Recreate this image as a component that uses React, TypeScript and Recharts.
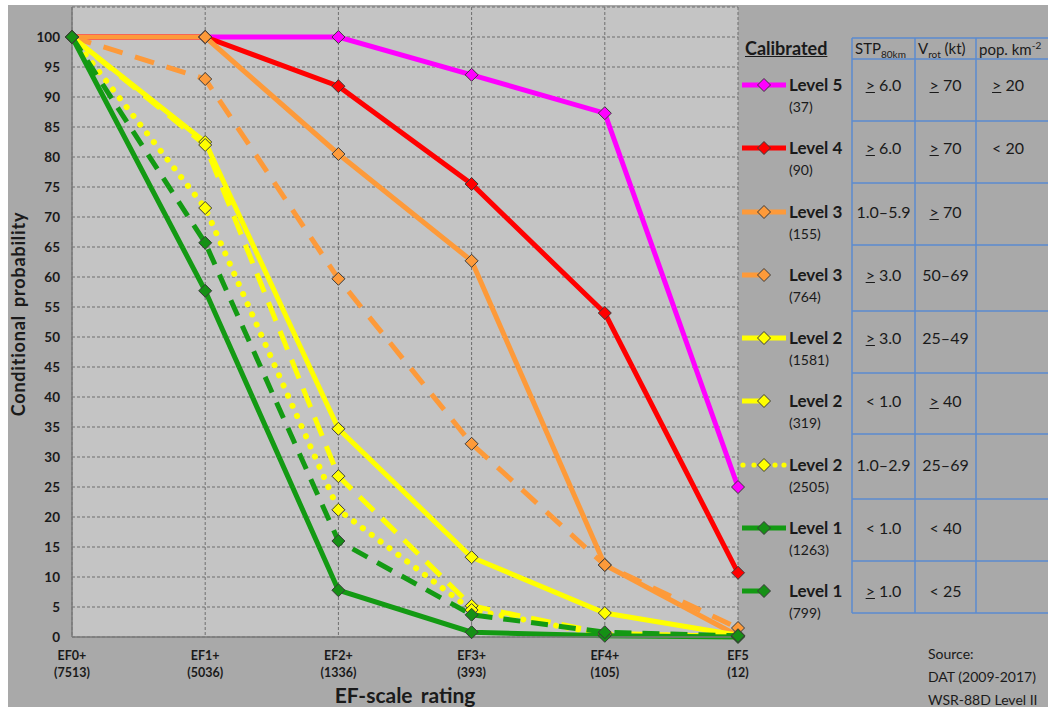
import React from "react";
import { CartesianGrid, Line, LineChart, XAxis, YAxis } from "recharts";

const categories = ["EF0+", "EF1+", "EF2+", "EF3+", "EF4+", "EF5"];
const counts = ["(7513)", "(5036)", "(1336)", "(393)", "(105)", "(12)"];
const yTicks = [0, 5, 10, 15, 20, 25, 30, 35, 40, 45, 50, 55, 60, 65, 70, 75, 80, 85, 90, 95, 100, 105];

const level5 = [100, 100, 100, 93.7, 87.3, 25];
const level4 = [100, 100, 91.8, 75.5, 54, 10.7];
const level3a = [100, 100, 80.5, 62.7, 12, 0.2];
const level3b = [100, 93, 59.7, 32.2, 12, 1.5];
const level2a = [100, 82.5, 34.7, 13.3, 4, 0.3];
const level2b = [100, 82, 26.8, 5.2, 0.6, 0.1];
const level2c = [100, 71.5, 21.2, 4.5, 0.4, 0.1];
const level1a = [100, 57.7, 7.8, 0.8, 0.2, 0];
const level1b = [100, 65.7, 16, 3.7, 0.8, 0.2];

const seriesLabels = ["Level 5", "Level 4", "Level 3", "Level 3", "Level 2", "Level 2", "Level 2", "Level 1", "Level 1"];
const seriesCounts = ["(37)", "(90)", "(155)", "(764)", "(1581)", "(319)", "(2505)", "(1263)", "(799)"];
const stpValues = ["≥ 6.0", "≥ 6.0", "1.0–5.9", "≥ 3.0", "≥ 3.0", "< 1.0", "1.0–2.9", "< 1.0", "≥ 1.0"];
const vrotValues = ["≥ 70", "≥ 70", "≥ 70", "50–69", "25–49", "≥ 40", "25–69", "< 40", "< 25"];
const popValues = ["≥ 20", "< 20", "", "", "", "", "", "", ""];

const FONT = "Lato, 'Open Sans', sans-serif";
const TEXT = "#1a1a1a";

type Style = { key: string; color: string; fill: string; dash?: string; cap?: "round" | "butt"; width: number; kind: "solid" | "dash" | "dot" };

const styles: Style[] = [
  { key: "l5", color: "#ff00ff", fill: "#ff00ff", width: 5, kind: "solid" },
  { key: "l4", color: "#ff0000", fill: "#ff0000", width: 5, kind: "solid" },
  { key: "l3a", color: "#fd9a3a", fill: "#fd9a3a", width: 5, kind: "solid" },
  { key: "l3b", color: "#fd9a3a", fill: "#fd9a3a", width: 5, dash: "20 13", kind: "dash" },
  { key: "l2a", color: "#ffff00", fill: "#ffff00", width: 5, kind: "solid" },
  { key: "l2b", color: "#ffff00", fill: "#ffff00", width: 5, dash: "20 11", kind: "dash" },
  { key: "l2c", color: "#ffff00", fill: "#ffff00", width: 6, dash: "0.1 11", cap: "round", kind: "dot" },
  { key: "l1a", color: "#139a13", fill: "#159015", width: 5, kind: "solid" },
  { key: "l1b", color: "#139a13", fill: "#159015", width: 5, dash: "17 11", kind: "dash" },
];

const seriesValues = [level5, level4, level3a, level3b, level2a, level2b, level2c, level1a, level1b];

const data = categories.map((c, i) => {
  const row: Record<string, number> = { x: i };
  styles.forEach((s, k) => {
    row[s.key] = seriesValues[k][i];
  });
  return row;
});

const diamond = (fill: string) => (props: any) => {
  const { cx, cy, index } = props;
  if (cx == null || cy == null) return <g key={index} />;
  const r = 6.5;
  return (
    <path
      key={index}
      d={`M${cx},${cy - r} L${cx + r},${cy} L${cx},${cy + r} L${cx - r},${cy} Z`}
      fill={fill}
      stroke="#3a3a3a"
      strokeWidth={1}
    />
  );
};

const XTick = (props: any) => {
  const { x, y, payload } = props;
  const i = payload.value;
  return (
    <g fontFamily={FONT} fontWeight={700} fontSize={12.5} fill={TEXT}>
      <text x={x} y={y + 21} textAnchor="middle">{categories[i]}</text>
      <text x={x} y={y + 38} textAnchor="middle">{counts[i]}</text>
    </g>
  );
};

const renderCell = (s: string) =>
  s.startsWith("≥") ? (
    <>
      <span style={{ textDecoration: "underline" }}>&gt;</span>
      {s.slice(1)}
    </>
  ) : (
    s
  );

const rowLines = [38, 59, 121, 183, 245, 311, 373, 434, 499, 561, 613];
const colLines = [852, 915, 976];

function LegendSample({ s }: { s: Style }) {
  const r = 6.5;
  return (
    <svg width={50} height={20} style={{ position: "absolute", left: 740, top: -10 }}>
      {s.kind === "solid" && <line x1={2} x2={46} y1={10} y2={10} stroke={s.color} strokeWidth={5} />}
      {s.kind === "dash" && <line x1={2} x2={20} y1={10} y2={10} stroke={s.color} strokeWidth={5} />}
      {s.kind === "dot" &&
        [3, 14, 35, 44].map((d) => <circle key={d} cx={d} cy={10} r={2.6} fill={s.color} />)}
      <path d={`M24,${10 - r} L${24 + r},10 L24,${10 + r} L${24 - r},10 Z`} fill={s.fill} stroke="#3a3a3a" strokeWidth={1} />
    </svg>
  );
}

export default function App() {
  return (
    <div style={{ position: "fixed", left: 0, top: 0, width: 1048, height: 707, background: "#fff", overflow: "hidden", fontFamily: FONT }}>
      <div style={{ position: "absolute", left: 8, top: 5, width: 1040, height: 702, background: "#a9a9a9" }} />
      <div style={{ position: "absolute", left: 0, top: 0 }}>
        <LineChart width={1048} height={707} data={data} margin={{ top: 7, right: 310, bottom: 0, left: 0 }}>
          <CartesianGrid fill="#c4c4c4" stroke="#6e6e6e" strokeDasharray="3 2" />
          <XAxis
            dataKey="x"
            type="number"
            domain={[0, 5]}
            ticks={[0, 1, 2, 3, 4, 5]}
            height={70}
            tick={<XTick />}
            tickLine={false}
            tickSize={0}
            axisLine={{ stroke: "#7a7a7a", strokeWidth: 1.5 }}
          />
          <YAxis
            type="number"
            domain={[0, 105]}
            ticks={yTicks}
            width={72}
            tickLine={false}
            tickSize={0}
            tickMargin={12}
            tickFormatter={(v) => (v > 100 ? "" : String(v))}
            tick={{ fill: TEXT, fontSize: 13.5, fontWeight: 700, fontFamily: FONT }}
            axisLine={{ stroke: "#7a7a7a", strokeWidth: 1.5 }}
          />
          {styles.map((s) => (
            <Line
              key={s.key}
              dataKey={s.key}
              type="linear"
              stroke={s.color}
              strokeWidth={s.width}
              strokeDasharray={s.dash}
              strokeLinecap={s.cap ?? "butt"}
              dot={diamond(s.fill)}
              activeDot={false}
              isAnimationActive={false}
            />
          ))}
        </LineChart>
      </div>

      <svg width={1048} height={707} style={{ position: "absolute", left: 0, top: 0, pointerEvents: "none" }}>
        <text
          x={20}
          y={314}
          transform="rotate(-90 20 314)"
          textAnchor="middle"
          dominantBaseline="middle"
          fontFamily={FONT}
          fontWeight={700}
          fontSize={18}
          letterSpacing={0.8}
          wordSpacing={3}
          fill={TEXT}
        >
          Conditional probability
        </text>
        <text x={405} y={703} textAnchor="middle" fontFamily={FONT} fontWeight={700} fontSize={21} wordSpacing={3} fill={TEXT}>
          EF-scale rating
        </text>
        {rowLines.map((y) => (
          <line key={`r${y}`} x1={852} x2={1048} y1={y} y2={y} stroke="#5b8bd0" strokeWidth={1.5} />
        ))}
        {colLines.map((x) => (
          <line key={`c${x}`} x1={x} x2={x} y1={38} y2={613} stroke="#5b8bd0" strokeWidth={1.5} />
        ))}
      </svg>

      <div style={{ position: "absolute", left: 745, top: 37, fontSize: 18, fontWeight: 700, color: TEXT, textDecoration: "underline" }}>
        Calibrated
      </div>
      <div style={{ position: "absolute", left: 855, top: 39, fontSize: 15, color: TEXT, whiteSpace: "nowrap" }}>
        STP<sub style={{ fontSize: 10 }}>80km</sub>
      </div>
      <div style={{ position: "absolute", left: 918, top: 39, fontSize: 15, color: TEXT, whiteSpace: "nowrap" }}>
        V<sub style={{ fontSize: 10 }}>rot</sub> (kt)
      </div>
      <div style={{ position: "absolute", left: 979, top: 39, fontSize: 15, color: TEXT, whiteSpace: "nowrap" }}>
        pop. km<sup style={{ fontSize: 10 }}>-2</sup>
      </div>

      {styles.map((s, i) => {
        const yc = 85 + i * 63.25;
        return (
          <div key={s.key} style={{ position: "absolute", left: 0, top: yc, width: 1048, height: 0 }}>
            <LegendSample s={s} />
            <div style={{ position: "absolute", left: 789, top: -11, fontSize: 17, fontWeight: 700, color: TEXT, lineHeight: "22px", whiteSpace: "nowrap" }}>
              {seriesLabels[i]}
            </div>
            <div style={{ position: "absolute", left: 789, top: 12, fontSize: 14, color: TEXT, lineHeight: "20px" }}>
              {seriesCounts[i]}
            </div>
            <div style={{ position: "absolute", left: 852, width: 63, top: -11, textAlign: "center", fontSize: 16, color: TEXT, lineHeight: "22px" }}>
              {renderCell(stpValues[i])}
            </div>
            <div style={{ position: "absolute", left: 915, width: 61, top: -11, textAlign: "center", fontSize: 16, color: TEXT, lineHeight: "22px" }}>
              {renderCell(vrotValues[i])}
            </div>
            <div style={{ position: "absolute", left: 976, width: 64, top: -11, textAlign: "center", fontSize: 16, color: TEXT, lineHeight: "22px" }}>
              {renderCell(popValues[i])}
            </div>
          </div>
        );
      })}

      <div style={{ position: "absolute", left: 928, top: 642, fontSize: 14, color: TEXT, lineHeight: "23px" }}>
        Source:
        <br />
        DAT (2009-2017)
        <br />
        WSR-88D Level II
      </div>
    </div>
  );
}
